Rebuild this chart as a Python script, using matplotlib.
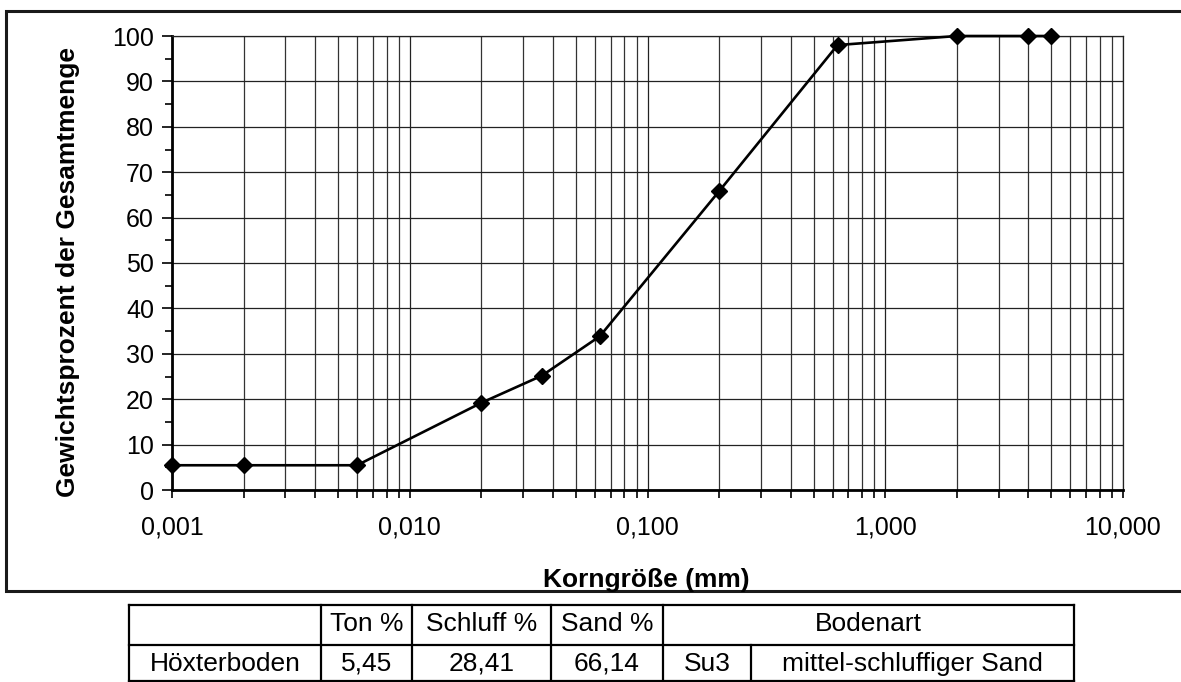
import matplotlib
matplotlib.use("Agg")
import matplotlib.pyplot as plt
from matplotlib.ticker import FixedLocator, NullFormatter

plt.rcParams['font.family'] = ['Liberation Sans', 'DejaVu Sans']

# Siebanalyse / Sedimentation: Korngröße in mm, Durchgang in Gewichtsprozent
korngroesse = [0.001, 0.002, 0.006, 0.02, 0.036, 0.063, 0.2, 0.63, 2.0, 4.0, 5.0]
durchgang = [5.45, 5.45, 5.45, 19.2, 25.2, 33.86, 65.8, 98.0, 100.0, 100.0, 100.0]

x_major = [0.001, 0.01, 0.1, 1.0, 10.0]
x_labels = ["0,001", "0,010", "0,100", "1,000", "10,000"]

# Tabelle unter dem Diagramm
kopf = ["", "Ton %", "Schluff %", "Sand %", "Bodenart"]
probe = "Höxterboden"
ton, schluff, sand = "5,45", "28,41", "66,14"
kuerzel, bodenart = "Su3", "mittel-schluffiger Sand"

W, H = 1181, 682
fig = plt.figure(figsize=(W / 100, H / 100), dpi=100)

# Rahmen und Tabelle in Pixelkoordinaten
bg = fig.add_axes([0, 0, 1, 1])
bg.set_xlim(0, W)
bg.set_ylim(H, 0)
bg.axis("off")
bg.plot([1190, 6, 6, 1190], [10.5, 10.5, 591, 591], color="#1a1a1a", lw=2.2,
        solid_joinstyle="miter", clip_on=False)

cols = [129, 321, 412, 551, 663, 751, 1074]
rows = [605, 645, 680.5]
lc = "black"
lw = 1.6
for y in rows:
    bg.plot([cols[0], cols[-1]], [y, y], color=lc, lw=lw, solid_capstyle="projecting")
for x in [cols[0], cols[1], cols[2], cols[3], cols[4], cols[6]]:
    bg.plot([x, x], [rows[0], rows[2]], color=lc, lw=lw)
bg.plot([cols[5], cols[5]], [rows[1], rows[2]], color=lc, lw=lw)

fs_tab = 19
y1 = (rows[0] + rows[1]) / 2 - 1
y2 = (rows[1] + rows[2]) / 2 + 1
for i, txt in enumerate(kopf[1:4]):
    bg.text((cols[i + 1] + cols[i + 2]) / 2, y1, txt, ha="center", va="center", fontsize=fs_tab)
bg.text((cols[4] + cols[6]) / 2, y1, kopf[4], ha="center", va="center", fontsize=fs_tab)
zeile = [probe, ton, schluff, sand, kuerzel, bodenart]
for i, txt in enumerate(zeile):
    bg.text((cols[i] + cols[i + 1]) / 2, y2, txt, ha="center", va="center", fontsize=fs_tab)

# Körnungslinie
ax = fig.add_axes([172 / W, 1 - 490 / H, (1123 - 172) / W, (490 - 36) / H])
ax.set_xscale("log")
ax.set_xlim(0.001, 10)
ax.set_ylim(0, 100)

ax.plot(korngroesse, durchgang, color="black", lw=1.9, marker="D", ms=8.5,
        markerfacecolor="black", markeredgecolor="black", clip_on=False, zorder=5)

ax.xaxis.set_major_locator(FixedLocator(x_major))
ax.set_xticklabels(x_labels)
minor = [m * d for d in x_major[:-1] for m in range(2, 10)]
ax.xaxis.set_minor_locator(FixedLocator(minor))
ax.xaxis.set_minor_formatter(NullFormatter())
ax.set_yticks(range(0, 101, 10))
ax.set_yticks(range(5, 100, 10), minor=True)

ax.grid(True, which="major", axis="both", color="#222222", lw=0.9)
ax.grid(True, which="minor", axis="x", color="#333333", lw=0.9)
ax.set_axisbelow(True)

ax.tick_params(axis="both", which="both", direction="out", color="black", width=1.2)
ax.tick_params(axis="x", which="both", length=6, pad=12, labelsize=18)
ax.tick_params(axis="y", which="major", length=7, pad=6, labelsize=18)
ax.tick_params(axis="y", which="minor", length=5)

for s in ["left", "bottom"]:
    ax.spines[s].set_linewidth(2.0)
    ax.spines[s].set_color("black")
for s in ["top", "right"]:
    ax.spines[s].set_linewidth(0.9)
    ax.spines[s].set_color("#222222")

ax.set_xlabel("Korngröße (mm)", fontsize=19, fontweight="bold")
ax.xaxis.set_label_coords(0.499, -0.172)
ax.set_ylabel("Gewichtsprozent der Gesamtmenge", fontsize=19, fontweight="bold")
ax.yaxis.set_label_coords(-0.097, 0.48)

fig.savefig("out.png", dpi=100)
